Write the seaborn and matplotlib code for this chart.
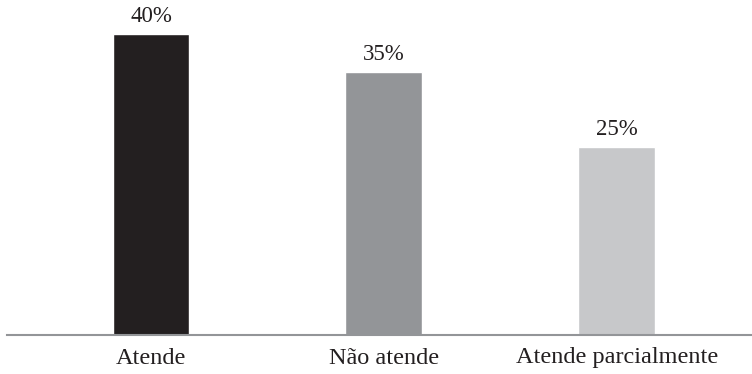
import matplotlib
matplotlib.use("Agg")
import matplotlib.pyplot as plt
import seaborn as sns
import pandas as pd

categories = ["Atende", "Não atende", "Atende parcialmente"]
values = [40, 35, 25]
bar_colors = ["#231f20", "#939598", "#c7c8ca"]

sns.set_theme(style="white")
plt.rcParams["font.family"] = ["Liberation Serif", "DejaVu Serif"]

df = pd.DataFrame({"categoria": categories, "valor": values})

W, H = 752, 374
fig = plt.figure(figsize=(W / 100, H / 100), dpi=100)
ax = fig.add_axes([7 / W, (H - 335) / H, (W - 7) / W, 335 / H])

sns.barplot(data=df, x="categoria", y="valor", hue="categoria",
            palette=bar_colors, width=0.33, legend=False, ax=ax,
            saturation=1)

for i, v in enumerate(values):
    ax.text(i, v + 0.85, f"{v}%", ha="center", va="bottom",
            fontsize=16.5, color="#231f20")

ax.set_xlim(-0.618, 2.58)
ax.set_ylim(0, 44.5)
ax.set_xlabel("")
ax.set_ylabel("")
ax.set_yticks([])
ax.tick_params(axis="x", length=0, pad=9, labelsize=17.5, colors="#231f20")
for side in ["top", "left", "right"]:
    ax.spines[side].set_visible(False)
ax.spines["bottom"].set_color("#939598")
ax.spines["bottom"].set_linewidth(1.5)
ax.patch.set_alpha(0)

fig.savefig("out.png", dpi=100)
